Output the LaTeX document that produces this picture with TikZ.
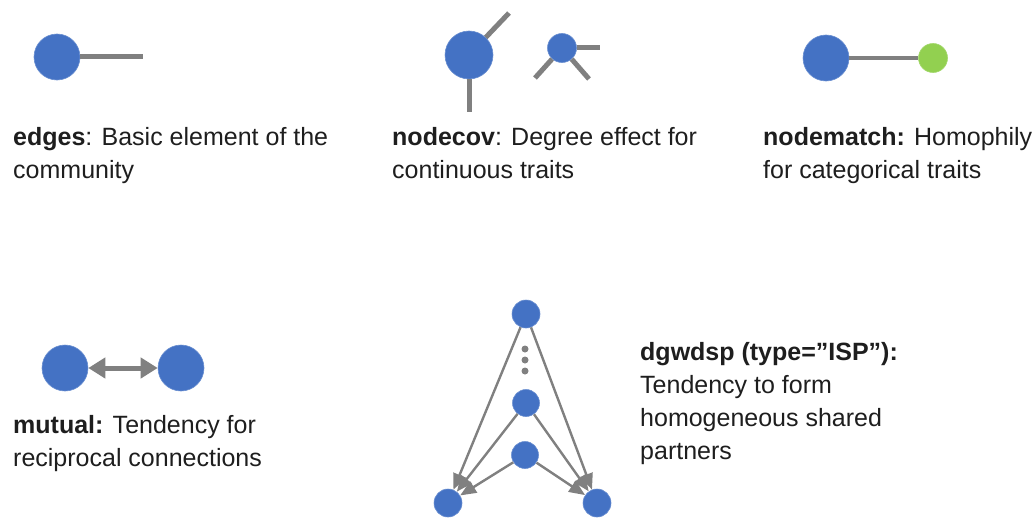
\documentclass[tikz,border=0pt]{standalone}
\usepackage{fontspec}
\setmainfont{Liberation Sans}
\usetikzlibrary{arrows.meta}
\definecolor{nblue}{HTML}{4472C4}
\definecolor{ngreen}{HTML}{92D050}
\definecolor{egray}{HTML}{808080}
\definecolor{tcol}{HTML}{1E1E1E}
\tikzset{
  bnode/.style={circle, fill=nblue, draw=nblue!80!white, line width=0.6pt, inner sep=0pt, minimum size=#1},
  gnode/.style={circle, fill=ngreen, draw=ngreen!85!white, line width=0.6pt, inner sep=0pt, minimum size=#1},
  dotnode/.style={circle, fill=egray, inner sep=0pt, minimum size=7pt},
  stub/.style={draw=egray, line width=5pt},
  link/.style={draw=egray, line width=4pt},
  mutarrow/.style={draw=egray, line width=5pt, {Triangle[length=17pt,width=20pt]}-{Triangle[length=17pt,width=20pt]}},
  sparrow/.style={draw=egray, line width=2.4pt, -{Triangle[length=16pt,width=13pt]}},
  txt/.style={anchor=base west, inner sep=0pt, text=tcol, font=\fontsize{25}{33}\selectfont}
}
\newcommand{\lines}[1]{\begin{tabular}[t]{@{}l@{}}#1\end{tabular}}
\begin{document}
\begin{tikzpicture}[x=1pt,y=-1pt]
\useasboundingbox (0,0) rectangle (1035,519);

% ---- edges
\node[bnode=46pt] (e1) at (57,57) {};
\coordinate (e1end) at (143,57);
\draw[stub] (e1) -- (e1end);
\node[txt] (edgestxt) at (13,145) {\lines{\textbf{edges}: Basic element of the\\community}};

% ---- nodecov
\node[bnode=48pt] (cbig) at (469,55) {};
\coordinate (cbig1) at (509,13);
\coordinate (cbig2) at (469,112);
\draw[stub] (cbig) -- (cbig1);
\draw[stub] (cbig) -- (cbig2);
\node[bnode=29pt] (csmall) at (562,48) {};
\coordinate (cs1) at (600,48);
\coordinate (cs2) at (535,78);
\coordinate (cs3) at (589,79);
\draw[stub] (csmall) -- (cs1);
\draw[stub] (csmall) -- (cs2);
\draw[stub] (csmall) -- (cs3);
\node[txt] (covtxt) at (392,145) {\lines{\textbf{nodecov}: Degree effect for\\continuous traits}};

% ---- nodematch
\node[bnode=46pt] (mbig) at (826,58) {};
\node[gnode=29pt] (mgreen) at (933,58) {};
\draw[link] (mbig) -- (mgreen);
\node[txt] (matchtxt) at (763,145) {\lines{\textbf{nodematch:} Homophily\\for categorical traits}};

% ---- mutual
\node[bnode=46pt] (u1) at (65,368) {};
\node[bnode=46pt] (u2) at (181,368) {};
\draw[mutarrow] (u1) -- (u2);
\node[txt] (muttxt) at (13,433) {\lines{\textbf{mutual:} Tendency for\\reciprocal connections}};

% ---- dgwdsp
\node[bnode=28pt] (dt) at (526,314) {};
\node[dotnode] (d1) at (525,349) {};
\node[dotnode] (d2) at (525,360) {};
\node[dotnode] (d3) at (525,371) {};
\node[bnode=27pt] (dm) at (526,403) {};
\node[bnode=27pt] (dl) at (525,455) {};
\node[bnode=28pt] (dbl) at (448,503) {};
\node[bnode=28pt] (dbr) at (597,503) {};
\draw[sparrow] (dt) -- (dbl);
\draw[sparrow] (dt) -- (dbr);
\draw[sparrow] (dm) -- (dbl);
\draw[sparrow] (dm) -- (dbr);
\draw[sparrow] (dl) -- (dbl);
\draw[sparrow] (dl) -- (dbr);
\node[txt] (dgtxt) at (640,360) {\lines{\textbf{dgwdsp (type=”ISP”):}\\Tendency to form\\homogeneous shared\\partners}};
\end{tikzpicture}
\end{document}
